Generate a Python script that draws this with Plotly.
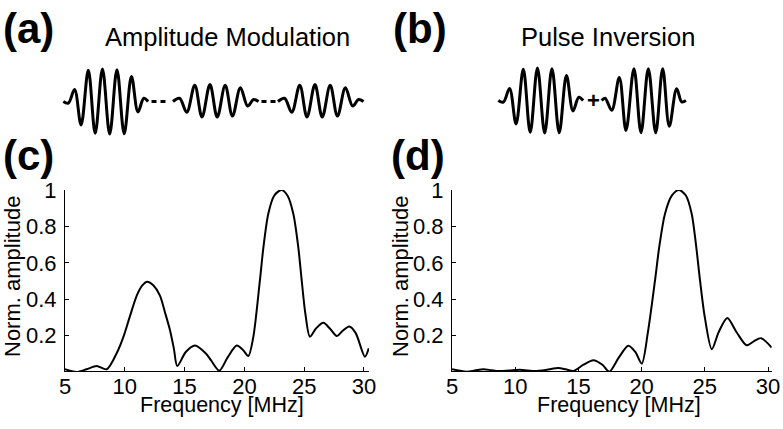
import plotly.graph_objects as go

W, H = 783, 429
FONT = "Liberation Sans, Arial, sans-serif"

# spectrum (c): amplitude modulation
FREQ_C = [5.0, 5.98, 6.8, 7.65, 8.49, 9.3, 9.87, 10.4, 11.0, 11.45, 11.88, 12.4, 12.94,
          13.35, 13.78, 14.1, 14.39, 15.1, 15.87, 16.8, 17.2, 17.9, 18.6, 19.36, 19.9,
          20.33, 20.74, 21.3, 21.6, 22.0, 22.5, 23.1, 23.6, 24.09, 24.5, 24.79, 25.1,
          25.48, 26.0, 26.6, 27.2, 27.72, 28.2, 28.77, 29.3, 30.08, 30.4]
AMP_C = [0.015, 0.0, 0.015, 0.033, 0.015, 0.10, 0.19, 0.30, 0.42, 0.475, 0.496, 0.475, 0.42,
         0.33, 0.23, 0.13, 0.033, 0.11, 0.145, 0.10, 0.065, 0.007, 0.08, 0.145, 0.12,
         0.088, 0.19, 0.505, 0.69, 0.87, 0.97, 1.0, 0.97, 0.87, 0.69, 0.505, 0.32,
         0.194, 0.24, 0.27, 0.235, 0.198, 0.225, 0.25, 0.215, 0.084, 0.13]

# spectrum (d): pulse inversion
FREQ_D = [5.0, 6.16, 6.8, 7.48, 8.1, 8.66, 9.5, 10.38, 11.0, 11.57, 12.5, 13.41, 14.0, 14.6,
          15.4, 16.18, 16.9, 17.44, 18.2, 18.95, 19.5, 20.01, 20.5, 21.06, 21.4, 21.85,
          22.4, 22.96, 23.5, 23.96, 24.3, 24.62, 25.0, 25.55, 26.1, 26.78, 27.5, 28.31,
          28.9, 29.45, 30.29]
AMP_D = [0.015, 0.002, 0.008, 0.015, 0.01, 0.005, 0.008, 0.012, 0.008, 0.005, 0.012, 0.022,
         0.015, 0.006, 0.04, 0.065, 0.04, 0.002, 0.08, 0.144, 0.11, 0.046, 0.22, 0.503,
         0.69, 0.87, 0.97, 1.0, 0.97, 0.87, 0.7, 0.503, 0.3, 0.125, 0.22, 0.297, 0.22,
         0.147, 0.17, 0.186, 0.134]

X_TICKS = [5, 10, 15, 20, 25, 30]
Y_TICKS = [0.2, 0.4, 0.6, 0.8, 1]
Y_TICK_TEXT = ["0.2", "0.4", "0.6", "0.8", "1"]

# schematic pulses: extremes in half-cycle units, normalised amplitude
FULL_T = [0, 0.7, 1.55, 2.45, 3.45, 4.4, 5.4, 6.4, 7.4, 8.4, 9.4, 10.3, 11.1, 11.7]
FULL_A = [0, -0.05, 0.37, -0.72, 0.96, -0.98, 1.0, -1.0, 0.98, -0.99, 0.77, -0.32, 0.1, 0]
HALF_T = [0, 0.9, 1.9, 3.0, 4.0, 5.1, 6.1, 7.2, 8.2, 9.3, 10.3, 11.1, 11.8]
HALF_A = [0, 0.1, -0.33, 0.5, -0.48, 0.52, -0.48, 0.5, -0.45, 0.42, -0.14, 0.06, 0]
INV_T = [0, 0.46, 1.38, 2.43, 3.35, 4.45, 5.42, 6.43, 7.45, 8.41, 9.32, 10.34, 11.03, 11.62]
INV_A = [0, 0.07, -0.3, 0.71, -0.92, 0.98, -0.99, 0.98, -0.99, 0.98, -0.79, 0.36, -0.04, 0]


def px(x):
    return x / W


def py(y):
    return 1 - y / H


# layout of the schematic strips (pixels)
STEP = 7.25      # px per half cycle
AMP_PX = 32.5    # px per unit amplitude
AM_ORIGIN, AM_BASE = 63.3, 101.5
PI_ORIGIN, PI_BASE = 498.3, 100.5


def t_am(x):
    return (x - AM_ORIGIN) / STEP


def t_pi(x):
    return (x - PI_ORIGIN) / STEP


fig = go.Figure()

spec_line = dict(color="black", width=2, shape="spline", smoothing=0.8)
fig.add_trace(go.Scatter(x=FREQ_C, y=AMP_C, mode="lines", line=spec_line,
                         xaxis="x", yaxis="y", hoverinfo="skip"))
fig.add_trace(go.Scatter(x=FREQ_D, y=AMP_D, mode="lines", line=spec_line,
                         xaxis="x2", yaxis="y2", hoverinfo="skip"))

wave_line = dict(color="black", width=3, shape="spline", smoothing=1.0)
dash_line = dict(color="black", width=3)

# (a) amplitude modulation: full pulse then two half pulses
for off, tt, aa in [(0, FULL_T, FULL_A),
                    (t_am(173), HALF_T, HALF_A),
                    (t_am(278), HALF_T, HALF_A)]:
    fig.add_trace(go.Scatter(x=[t + off for t in tt], y=aa, mode="lines",
                             line=wave_line, xaxis="x3", yaxis="y3", hoverinfo="skip"))
# two short dashes in each gap
for start in (151.5, 261.5):
    xs = [t_am(start), t_am(start + 5), None, t_am(start + 9), t_am(start + 14)]
    fig.add_trace(go.Scatter(x=xs, y=[0, 0, None, 0, 0], mode="lines",
                             line=dash_line, xaxis="x3", yaxis="y3", hoverinfo="skip"))

# (b) pulse inversion
for off, tt, aa in [(0, FULL_T, FULL_A), (t_pi(601.7), INV_T, INV_A)]:
    fig.add_trace(go.Scatter(x=[t + off for t in tt], y=aa, mode="lines",
                             line=wave_line, xaxis="x4", yaxis="y4", hoverinfo="skip"))

tick_font = dict(family=FONT, size=22, color="black")
xcommon = dict(tickvals=X_TICKS, ticks="inside", ticklen=4, tickwidth=1,
               tickcolor="black", showline=True, linecolor="black", linewidth=1,
               showgrid=False, zeroline=False, tickfont=tick_font, automargin=False,
               ticklabelstandoff=-4)
ycommon = dict(tickvals=Y_TICKS, ticktext=Y_TICK_TEXT, ticks="inside", ticklen=4,
               tickwidth=1, tickcolor="black", showline=True, linecolor="black",
               linewidth=1, showgrid=False, zeroline=False, tickfont=tick_font,
               automargin=False, range=[0.0055, 1.0], domain=[py(371), py(190)],
               ticklabelstandoff=3)

hidden = dict(visible=False, showgrid=False, zeroline=False, fixedrange=True,
              automargin=False)

fig.update_layout(
    template="none",
    width=W, height=H, autosize=False,
    margin=dict(l=0, r=0, t=0, b=0, pad=0, autoexpand=False),
    paper_bgcolor="white", plot_bgcolor="rgba(0,0,0,0)",
    showlegend=False,
    font=dict(family=FONT, color="black"),
    xaxis=dict(xcommon, domain=[px(65), px(369)], range=[5, 30.42], anchor="y"),
    yaxis=dict(ycommon, anchor="x"),
    xaxis2=dict(xcommon, domain=[px(452), px(771.7)], range=[5, 30.29], anchor="y2"),
    yaxis2=dict(ycommon, anchor="x2"),
    xaxis3=dict(hidden, domain=[px(40), px(390)], range=[t_am(40), t_am(390)], anchor="y3"),
    yaxis3=dict(hidden, domain=[py(150), py(50)],
                range=[-(150 - AM_BASE) / AMP_PX, (AM_BASE - 50) / AMP_PX], anchor="x3"),
    xaxis4=dict(hidden, domain=[px(470), px(710)], range=[t_pi(470), t_pi(710)], anchor="y4"),
    yaxis4=dict(hidden, domain=[py(150), py(50)],
                range=[-(150 - PI_BASE) / AMP_PX, (PI_BASE - 50) / AMP_PX], anchor="x4"),
)


def label(text, x, y, size, bold=False, angle=0, xanchor="center"):
    fig.add_annotation(
        text=f"<b>{text}</b>" if bold else text,
        x=px(x), y=py(y), xref="paper", yref="paper",
        xanchor=xanchor, yanchor="middle", showarrow=False, textangle=angle,
        font=dict(family=FONT, size=size, color="black"),
    )


label("(a)", 1, 28, 42, bold=True, xanchor="left")
label("(b)", 391, 28, 42, bold=True, xanchor="left")
label("(c)", 1, 155, 42, bold=True, xanchor="left")
label("(d)", 389, 155, 42, bold=True, xanchor="left")
label("Amplitude Modulation", 227.5, 37, 25.5)
label("Pulse Inversion", 607.5, 37, 25.5)
label("+", 593, 100, 22, bold=True)
label("Frequency [MHz]", 222, 405, 21.5)
label("Frequency [MHz]", 618.5, 405, 21.5)
label("Norm. amplitude", 12, 277, 22, angle=-90)
label("Norm. amplitude", 400, 277, 22, angle=-90)

fig.write_html("out.html", config={"displayModeBar": False},
               post_script="document.body.style.margin='0';")
